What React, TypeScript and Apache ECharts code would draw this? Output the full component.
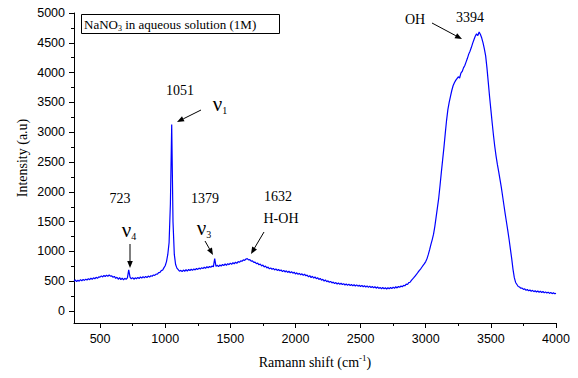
import React, { useEffect, useRef } from "react";
import * as echarts from "echarts";

// Raman shift sampling grid (cm-1): start and step
const X_START = 300;
const X_STEP = 10;

// Intensity (a.u.), 300 .. 4000 cm-1, every 10 cm-1
const intensity: number[] = [
  // 300s
  500, 522, 494, 518, 502, 528, 508, 532, 514, 536,
  // 400s
  520, 545, 526, 552, 534, 558, 542, 566, 550, 574,
  // 500s
  570, 590, 572, 598, 580, 604, 582, 606, 586, 590,
  // 600s
  566, 582, 548, 568, 534, 560, 528, 552, 524, 550,
  // 700s
  532, 558, 690, 570, 540, 562, 534, 558, 542, 566,
  // 800s
  546, 572, 552, 578, 556, 582, 562, 588, 570, 592,
  // 900s
  584, 606, 598, 620, 618, 646, 650, 680, 686, 724,
  // 1000s
  760, 830, 950, 1150, 1800, 3130, 1500, 950, 780, 720,
  // 1100s
  696, 668, 684, 662, 688, 668, 694, 672, 698, 680,
  // 1200s
  702, 684, 708, 690, 714, 698, 722, 704, 728, 712,
  // 1300s
  736, 716, 744, 726, 748, 734, 756, 742, 880, 750,
  // 1400s
  768, 746, 774, 754, 782, 762, 790, 768, 796, 778,
  // 1500s
  804, 784, 812, 794, 820, 802, 830, 818, 842, 836,
  // 1600s
  858, 850, 874, 880, 858, 864, 838, 842, 816, 822,
  // 1700s
  794, 804, 776, 790, 758, 772, 740, 756, 724, 738,
  // 1800s
  708, 724, 700, 716, 690, 708, 682, 698, 676, 690,
  // 1900s
  662, 684, 656, 676, 648, 668, 642, 660, 636, 652,
  // 2000s
  622, 642, 616, 634, 608, 626, 598, 620, 592, 604,
  // 2100s
  574, 594, 562, 584, 552, 572, 542, 560, 530, 548,
  // 2200s
  518, 534, 504, 522, 492, 508, 482, 498, 472, 486,
  // 2300s
  460, 478, 454, 472, 448, 466, 444, 460, 438, 454,
  // 2400s
  432, 452, 428, 446, 424, 442, 420, 440, 418, 434,
  // 2500s
  412, 432, 408, 426, 402, 422, 398, 418, 394, 412,
  // 2600s
  390, 408, 384, 404, 380, 398, 374, 396, 372, 392,
  // 2700s
  370, 392, 374, 396, 378, 402, 382, 408, 388, 412,
  // 2800s
  398, 420, 408, 432, 424, 452, 446, 478, 484, 516,
  // 2900s
  540, 565, 592, 618, 648, 680, 705, 735, 765, 795,
  // 3000s
  830, 880, 950, 1030, 1120, 1200, 1290, 1420, 1580, 1740,
  // 3100s
  1900, 2110, 2330, 2540, 2750, 2980, 3200, 3380, 3500, 3600,
  // 3200s
  3700, 3780, 3830, 3870, 3900, 3930, 3910, 3990, 4020, 4080,
  // 3300s
  4120, 4180, 4240, 4310, 4360, 4420, 4490, 4550, 4610, 4650,
  // 3400s
  4620, 4680, 4640, 4580, 4500, 4400, 4280, 4080, 3840, 3600,
  // 3500s
  3380, 3160, 2950, 2760, 2600, 2460, 2340, 2210, 2080, 1930,
  // 3600s
  1780, 1630, 1490, 1350, 1200, 1040, 880, 700, 560, 480,
  // 3700s
  446, 412, 404, 384, 386, 364, 372, 350, 362, 340,
  // 3800s
  354, 332, 348, 326, 342, 320, 338, 316, 334, 312,
  // 3900s
  328, 306, 322, 302, 318, 296, 314, 292, 306, 290,
  // 4000
  296,
];

const xMin = 300;
const xMax = 4000;
const yMin = -200;
const yMax = 5000;
const xTicks = [500, 1000, 1500, 2000, 2500, 3000, 3500, 4000];
const xMinorTicks = [750, 1250, 1750, 2250, 2750, 3250, 3750];
const yTicks = [0, 500, 1000, 1500, 2000, 2500, 3000, 3500, 4000, 4500, 5000];
const yMinorTicks = [250, 750, 1250, 1750, 2250, 2750, 3250, 3750, 4250, 4750];

const SERIF = '"Liberation Serif", "Times New Roman", serif';
const SANS = '"Liberation Sans", Arial, sans-serif';

function arrow(x1: number, y1: number, x2: number, y2: number) {
  const dx = x2 - x1;
  const dy = y2 - y1;
  const L = Math.hypot(dx, dy);
  const ux = dx / L;
  const uy = dy / L;
  const hl = 7;
  const hw = 2.8;
  const bx = x2 - ux * hl;
  const by = y2 - uy * hl;
  return [
    { type: "line", shape: { x1, y1, x2: bx, y2: by }, style: { stroke: "#000", lineWidth: 1 } },
    {
      type: "polygon",
      shape: { points: [[x2, y2], [bx - uy * hw, by + ux * hw], [bx + uy * hw, by - ux * hw]] },
      style: { fill: "#000" },
    },
  ];
}

function txt(x: number, y: number, text: string, size = 14) {
  return {
    type: "text",
    x,
    y,
    style: { text, fontFamily: SERIF, fontSize: size, fill: "#000", align: "center", verticalAlign: "middle" },
  };
}

function nu(x: number, y: number, sub: string) {
  return {
    type: "text",
    x,
    y,
    style: {
      text: `{v|ν}{s|${sub}}`,
      align: "center",
      verticalAlign: "middle",
      rich: {
        v: { fontFamily: SERIF, fontSize: 21, fill: "#000", lineHeight: 22 },
        s: { fontFamily: SERIF, fontSize: 10, fill: "#000", verticalAlign: "bottom", lineHeight: 22 },
      },
    },
  };
}

const plainNumber = (v: number) => String(v);

export default function App() {
  const ref = useRef<HTMLDivElement>(null);
  useEffect(() => {
    const chart = echarts.init(ref.current!, null, { renderer: "svg" });
    const data = intensity.map((v, i) => [X_START + X_STEP * i, v]);
    const axisLineStyle = { color: "#000", width: 1 };
    chart.setOption({
      animation: false,
      backgroundColor: "#fff",
      grid: { left: 74, right: 22, top: 13, bottom: 55 },
      xAxis: [
        {
          type: "value",
          min: xMin,
          max: xMax,
          position: "bottom",
          axisLine: { show: true, onZero: false, lineStyle: axisLineStyle },
          axisTick: { show: true, length: 5, customValues: xTicks, lineStyle: axisLineStyle },
          axisLabel: { customValues: xTicks, formatter: plainNumber, color: "#000", fontFamily: SANS, fontSize: 12.5, margin: 9 },
          splitLine: { show: false },
        },
        {
          type: "value",
          min: xMin,
          max: xMax,
          position: "bottom",
          axisLine: { show: false, onZero: false },
          axisTick: { show: true, length: 3, customValues: xMinorTicks, lineStyle: axisLineStyle },
          axisLabel: { show: false },
          splitLine: { show: false },
        },
      ],
      yAxis: [
        {
          type: "value",
          min: yMin,
          max: yMax,
          position: "left",
          axisLine: { show: true, onZero: false, lineStyle: axisLineStyle },
          axisTick: { show: true, length: 5, customValues: yTicks, lineStyle: axisLineStyle },
          axisLabel: { customValues: yTicks, formatter: plainNumber, color: "#000", fontFamily: SANS, fontSize: 12.5, margin: 9 },
          splitLine: { show: false },
        },
        {
          type: "value",
          min: yMin,
          max: yMax,
          position: "left",
          axisLine: { show: false, onZero: false },
          axisTick: { show: true, length: 3, customValues: yMinorTicks, lineStyle: axisLineStyle },
          axisLabel: { show: false },
          splitLine: { show: false },
        },
      ],
      series: [
        {
          type: "line",
          xAxisIndex: 0,
          yAxisIndex: 0,
          data,
          showSymbol: false,
          symbol: "none",
          lineStyle: { color: "#0000ff", width: 1.2 },
        },
      ],
      graphic: [
        {
          type: "rect",
          shape: { x: 81.5, y: 14.5, width: 198, height: 19 },
          style: { fill: "#fff", stroke: "#000", lineWidth: 1 },
        },
        {
          type: "text",
          x: 84,
          y: 24,
          style: {
            text: "{t|NaNO}{s|3}{t| in aqueous solution (1M)}",
            align: "left",
            verticalAlign: "middle",
            rich: {
              t: { fontFamily: SERIF, fontSize: 13, fill: "#000", lineHeight: 16 },
              s: { fontFamily: SERIF, fontSize: 8, fill: "#000", verticalAlign: "bottom", lineHeight: 16 },
            },
          },
        },
        {
          type: "text",
          x: 22,
          y: 158,
          rotation: Math.PI / 2,
          style: { text: "Intensity (a.u)", fontFamily: SERIF, fontSize: 14, fill: "#000", align: "center", verticalAlign: "middle" },
        },
        {
          type: "text",
          x: 315,
          y: 362,
          style: {
            text: "{t|Ramann shift (cm}{p|-1}{t|)}",
            align: "center",
            verticalAlign: "middle",
            rich: {
              t: { fontFamily: SERIF, fontSize: 14, fill: "#000", lineHeight: 18 },
              p: { fontFamily: SERIF, fontSize: 9, fill: "#000", verticalAlign: "top", lineHeight: 18 },
            },
          },
        },
        txt(180, 90, "1051"),
        nu(220, 104, "1"),
        ...arrow(201, 110, 177, 122),
        txt(120, 198, "723"),
        nu(129, 230, "4"),
        ...arrow(130, 244, 130, 268),
        txt(205, 198, "1379"),
        nu(204, 228, "3"),
        ...arrow(205, 241, 213, 255),
        txt(278, 196, "1632"),
        txt(281, 218, "H-OH"),
        ...arrow(264, 232, 251, 254),
        txt(415, 19, "OH"),
        txt(470, 17, "3394"),
        ...arrow(432, 23, 462, 39),
      ],
    });
    return () => chart.dispose();
  }, []);
  return (
    <div
      ref={ref}
      style={{ position: "absolute", left: 0, top: 0, width: 578, height: 378, background: "#fff" }}
    />
  );
}
